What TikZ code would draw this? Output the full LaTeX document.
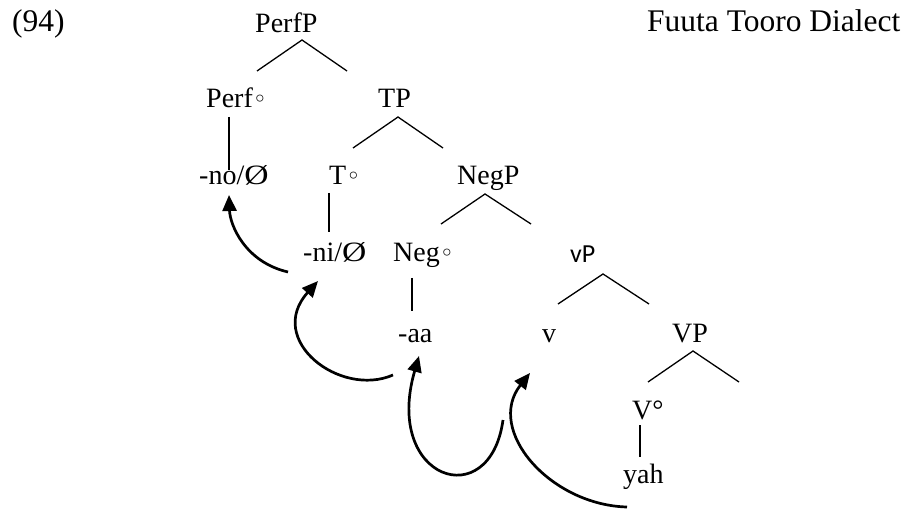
\documentclass[tikz,border=0pt]{standalone}
\usepackage{fontspec}
\setmainfont{Liberation Serif}
\newfontfamily\symf{DejaVu Sans}
\newfontfamily\calf{Carlito}
\usetikzlibrary{arrows.meta}
\begin{document}
\begin{tikzpicture}[x=1pt,y=-1pt,
  lbl/.style={anchor=base west,inner sep=0pt,font=\fontsize{28}{32}\selectfont},
  big/.style={anchor=base west,inner sep=0pt,font=\fontsize{31.5}{36}\selectfont},
  branch/.style={line width=1.3pt},
  move/.style={line width=2.7pt,-{Triangle[length=16pt,width=14pt]}}]
\useasboundingbox (0,0) rectangle (909,510);
\newcommand{\hd}{{\symf\fontsize{24}{24}\selectfont ◦}}
\newcommand{\nul}{\scalebox{1.2}[1]{Ø}}
% labels
\node[big] (ex) at (12,32) {(94)};
\node[big] (title) at (647,32) {Fuuta Tooro Dialect};
\node[lbl] (PerfP) at (255,33) {PerfP};
\node[lbl] (Perf) at (206,108) {Perf\hd};
\node[lbl] (TP) at (378,108) {TP};
\node[lbl] (no) at (199,185) {-no/\nul};
\node[lbl] (T) at (329,185) {T\hd};
\node[lbl] (NegP) at (457,185) {NegP};
\node[lbl] (ni) at (303,262) {-ni/\nul};
\node[lbl] (Neg) at (393,262) {Neg\hd};
\node[lbl,font=\calf\fontsize{26}{30}\selectfont] (vP) at (570,263) {vP};
\node[lbl] (aa) at (398,342) {-aa};
\node[lbl] (v) at (542,342) {v};
\node[lbl] (VP) at (672,342) {VP};
\node[lbl] (V) at (632,419) {V°};
\node[lbl] (yah) at (623,483) {yah};
% branch points
\coordinate (PerfPa) at (302,40); \coordinate (PerfPl) at (257,71); \coordinate (PerfPr) at (347,71);
\coordinate (TPa) at (398,117); \coordinate (TPl) at (353,148); \coordinate (TPr) at (443,148);
\coordinate (NegPa) at (485,194); \coordinate (NegPl) at (441,224); \coordinate (NegPr) at (531,224);
\coordinate (vPa) at (603,274); \coordinate (vPl) at (558,304); \coordinate (vPr) at (649,304);
\coordinate (VPa) at (693,351); \coordinate (VPl) at (648,382); \coordinate (VPr) at (739,382);
\draw[branch] (PerfPl) -- (PerfPa) -- (PerfPr);
\draw[branch] (TPl) -- (TPa) -- (TPr);
\draw[branch] (NegPl) -- (NegPa) -- (NegPr);
\draw[branch] (vPl) -- (vPa) -- (vPr);
\draw[branch] (VPl) -- (VPa) -- (VPr);
\coordinate (Perft) at (229,117); \coordinate (Perfb) at (229,170);
\coordinate (Tt) at (329,193); \coordinate (Tb) at (329,232);
\coordinate (Negt) at (412,278); \coordinate (Negb) at (412,311);
\coordinate (Vt) at (640,425); \coordinate (Vb) at (640,457);
\draw[branch] (Perft) -- (Perfb);
\draw[branch] (Tt) -- (Tb);
\draw[branch] (Negt) -- (Negb);
\draw[branch] (Vt) -- (Vb);
% movement arrows
\coordinate (m1s) at (288,272); \coordinate (m1e) at (229,195);
\coordinate (m2s) at (393,375); \coordinate (m2e) at (318,281);
\coordinate (m3s) at (503,420); \coordinate (m3e) at (419,356);
\coordinate (m4s) at (627,507); \coordinate (m4e) at (530,373);
\draw[move] (m1s) .. controls (245,262) and (230,225) .. (m1e);
\draw[move] (m2s) .. controls (340,398) and (265,340) .. (m2e);
\draw[move] (m3s) .. controls (490,515) and (383,480) .. (m3e);
\draw[move] (m4s) .. controls (550,505) and (485,430) .. (m4e);
\end{tikzpicture}
\end{document}
